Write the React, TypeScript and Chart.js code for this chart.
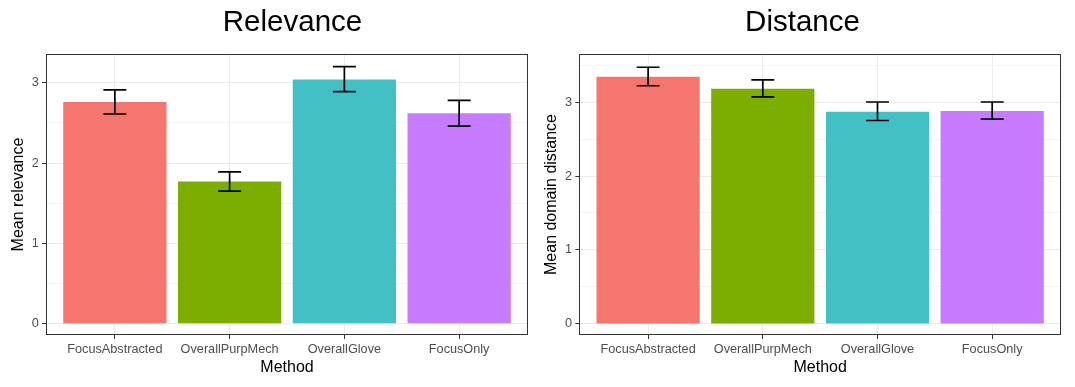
import React, { useEffect, useRef } from "react";
import { Chart, registerables } from "chart.js";

Chart.register(...registerables);

const methods = ["FocusAbstracted", "OverallPurpMech", "OverallGlove", "FocusOnly"];
const barColors = ["#F5766E", "#7CAE00", "#43BFC6", "#C77CFF"];

const relevanceMean = [2.76, 1.77, 3.04, 2.62];
const relevanceLow = [2.61, 1.65, 2.89, 2.46];
const relevanceHigh = [2.91, 1.89, 3.2, 2.78];

const distanceMean = [3.34, 3.18, 2.87, 2.88];
const distanceLow = [3.22, 3.07, 2.75, 2.77];
const distanceHigh = [3.47, 3.3, 3.0, 3.0];

const yTickValues = [0, 1, 2, 3];

const FONT = "'Liberation Sans', Arial, Helvetica, sans-serif";

const isWhole = (v: number) => Math.abs(v - Math.round(v)) < 1e-6;

type PanelProps = {
  title: string;
  yTitle: string;
  mean: number[];
  low: number[];
  high: number[];
  yMin: number;
  yMax: number;
  left: number;
  width: number;
  yAxisWidth: number;
  rightSpace: number;
  yTitlePad: number;
};

function Panel(p: PanelProps) {
  const ref = useRef<HTMLCanvasElement | null>(null);
  useEffect(() => {
    if (!ref.current) return;
    const errorBars = {
      id: "errorBars",
      afterDatasetsDraw(chart: any) {
        const { ctx, scales } = chart;
        const x = scales.x;
        const y = scales.y;
        ctx.save();
        ctx.strokeStyle = "#000000";
        ctx.lineWidth = 1.7;
        p.low.forEach((lo, i) => {
          const cx = x.getPixelForValue(i);
          const x0 = x.getPixelForValue(i - 0.1);
          const x1 = x.getPixelForValue(i + 0.1);
          const yLo = y.getPixelForValue(lo);
          const yHi = y.getPixelForValue(p.high[i]);
          ctx.beginPath();
          ctx.moveTo(cx, yLo);
          ctx.lineTo(cx, yHi);
          ctx.moveTo(x0, yLo);
          ctx.lineTo(x1, yLo);
          ctx.moveTo(x0, yHi);
          ctx.lineTo(x1, yHi);
          ctx.stroke();
        });
        ctx.restore();
      },
    };
    const panelBorder = {
      id: "panelBorder",
      afterDraw(chart: any) {
        const { ctx, chartArea } = chart;
        ctx.save();
        ctx.strokeStyle = "#333333";
        ctx.lineWidth = 1;
        const l = Math.round(chartArea.left) + 0.5;
        const t = Math.round(chartArea.top) + 0.5;
        const r = Math.round(chartArea.right) - 0.5;
        const b = Math.round(chartArea.bottom) - 0.5;
        ctx.strokeRect(l, t, r - l, b - t);
        ctx.restore();
      },
    };
    const chart = new Chart(ref.current, {
      type: "bar",
      data: {
        datasets: [
          {
            data: p.mean.map((v, i) => ({ x: i, y: v })),
            backgroundColor: barColors,
            borderWidth: 0,
            categoryPercentage: 1,
            barPercentage: 0.9,
          } as any,
        ],
      },
      options: {
        animation: false,
        responsive: false,
        maintainAspectRatio: false,
        layout: { padding: 0 },
        plugins: {
          legend: { display: false },
          tooltip: { enabled: false },
          title: {
            display: true,
            text: p.title,
            color: "#000000",
            font: { family: FONT, size: 29.5, weight: "normal", lineHeight: 1.2 },
            padding: { top: 5.5, bottom: 13.1 },
          },
        },
        scales: {
          x: {
            type: "linear",
            min: -0.6,
            max: 3.6,
            offset: false,
            afterFit: (s: any) => {
              s.height = 52;
            },
            border: { display: false },
            grid: {
              offset: false,
              color: "#EBEBEB",
              lineWidth: 1,
              drawTicks: true,
              tickLength: 4,
              tickColor: "#333333",
              tickWidth: 1,
            },
            ticks: {
              stepSize: 1,
              includeBounds: false,
              autoSkip: false,
              maxRotation: 0,
              padding: 2.5,
              color: "#4D4D4D",
              font: { family: FONT, size: 12.7 },
              callback: (v: any) => (isWhole(Number(v)) ? methods[Math.round(Number(v))] ?? "" : ""),
            },
            title: {
              display: true,
              text: "Method",
              color: "#000000",
              font: { family: FONT, size: 16, lineHeight: 1.2 },
              padding: { top: 0, bottom: 9.6 },
            },
          },
          y: {
            type: "linear",
            position: "left",
            min: p.yMin,
            max: p.yMax,
            afterFit: (s: any) => {
              s.width = p.yAxisWidth;
            },
            border: { display: false },
            grid: {
              color: (c: any) => (isWhole(c.tick.value) ? "#EBEBEB" : "#F4F4F4"),
              lineWidth: 1,
              drawTicks: true,
              tickLength: 4,
              tickColor: (c: any) => (isWhole(c.tick.value) ? "#333333" : "rgba(0,0,0,0)"),
              tickWidth: 1,
            },
            ticks: {
              stepSize: 0.5,
              includeBounds: false,
              padding: 3.3,
              color: "#4D4D4D",
              font: { family: FONT, size: 12.7 },
              callback: (v: any) => {
                const n = Number(v);
                return isWhole(n) && yTickValues.includes(Math.round(n)) ? String(Math.round(n)) : "";
              },
            },
            title: {
              display: true,
              text: p.yTitle,
              color: "#000000",
              font: { family: FONT, size: 16, lineHeight: 1.2 },
              padding: { top: p.yTitlePad, bottom: 0 },
            },
          },
          yR: {
            type: "linear",
            position: "right",
            display: true,
            afterFit: (s: any) => {
              s.width = p.rightSpace;
            },
            border: { display: false },
            grid: { display: false },
            ticks: { display: false },
          },
        },
      } as any,
      plugins: [errorBars, panelBorder],
    });
    return () => chart.destroy();
  }, []);
  return (
    <canvas
      ref={ref}
      width={p.width}
      height={387}
      style={{ position: "absolute", left: p.left, top: 0, width: p.width, height: 387 }}
    />
  );
}

export default function App() {
  return (
    <div
      style={{
        position: "fixed",
        left: 0,
        top: 0,
        width: 1075,
        height: 387,
        background: "#FFFFFF",
        overflow: "hidden",
      }}
    >
      <Panel
        title="Relevance"
        yTitle="Mean relevance"
        mean={relevanceMean}
        low={relevanceLow}
        high={relevanceHigh}
        yMin={-0.14}
        yMax={3.357}
        left={0}
        width={585}
        yAxisWidth={46}
        rightSpace={57}
        yTitlePad={9.1}
      />
      <Panel
        title="Distance"
        yTitle="Mean domain distance"
        mean={distanceMean}
        low={distanceLow}
        high={distanceHigh}
        yMin={-0.149}
        yMax={3.649}
        left={540}
        width={525}
        yAxisWidth={39.3}
        rightSpace={4}
        yTitlePad={2.4}
      />
    </div>
  );
}
